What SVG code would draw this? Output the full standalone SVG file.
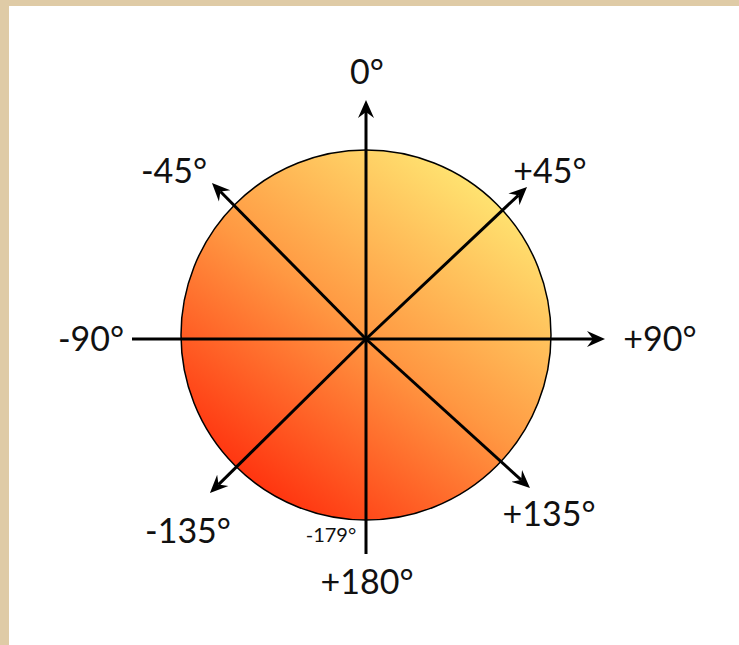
<svg xmlns="http://www.w3.org/2000/svg" width="739" height="645" viewBox="0 0 739 645">
  <defs>
    <linearGradient id="disc" x1="0.8" y1="0.1" x2="0.2" y2="0.9">
      <stop offset="0" stop-color="#FFE270"/>
      <stop offset="0.5" stop-color="#FF9842"/>
      <stop offset="1" stop-color="#FF3510"/>
    </linearGradient>
    <marker id="arrow" viewBox="0 -9 19 18" refX="6" refY="0" markerWidth="19" markerHeight="18" markerUnits="userSpaceOnUse" orient="auto">
      <path d="M0,-8 L18,0 L0,8 L6,0 Z" fill="#000"/>
    </marker>
  </defs>
  <style>
    .lbl { font-family: Lato, "Open Sans", "Liberation Sans", sans-serif; font-size: 34px; fill: #111; }
    .small { font-size: 20px; }
    .axis { stroke: #000; stroke-width: 3; fill: none; }
  </style>
  <rect x="0" y="0" width="739" height="645" fill="#DFCBA6"/>
  <rect x="9" y="6" width="730" height="639" fill="#FFFFFF"/>

  <g id="disc-node">
    <circle cx="366" cy="335" r="185" fill="url(#disc)" stroke="#000" stroke-width="1.5"/>
  </g>

  <g id="connectors">
    <line class="axis" x1="366" y1="554" x2="366" y2="112" marker-end="url(#arrow)"/>
    <line class="axis" x1="132" y1="339" x2="593" y2="339" marker-end="url(#arrow)"/>
    <line class="axis" x1="366" y1="339" x2="518.3" y2="195.3" marker-end="url(#arrow)"/>
    <line class="axis" x1="366" y1="339" x2="220.4" y2="191.5" marker-end="url(#arrow)"/>
    <line class="axis" x1="366" y1="339" x2="218.5" y2="484.6" marker-end="url(#arrow)"/>
    <line class="axis" x1="366" y1="339" x2="521.1" y2="479.9" marker-end="url(#arrow)"/>
  </g>

  <g id="label-0"><text class="lbl" x="367" y="84" text-anchor="middle">0°</text></g>
  <g id="label-m45"><text class="lbl" x="174" y="183" text-anchor="middle">-45°</text></g>
  <g id="label-p45"><text class="lbl" x="550" y="183" text-anchor="middle">+45°</text></g>
  <g id="label-m90"><text class="lbl" x="91" y="351" text-anchor="middle">-90°</text></g>
  <g id="label-p90"><text class="lbl" x="660" y="351" text-anchor="middle">+90°</text></g>
  <g id="label-m135"><text class="lbl" x="188" y="543" text-anchor="middle">-135°</text></g>
  <g id="label-p135"><text class="lbl" x="549" y="526" text-anchor="middle">+135°</text></g>
  <g id="label-p180"><text class="lbl" x="367" y="594" text-anchor="middle">+180°</text></g>
  <g id="label-m179"><text class="lbl small" x="331" y="542" text-anchor="middle">-179°</text></g>
</svg>
